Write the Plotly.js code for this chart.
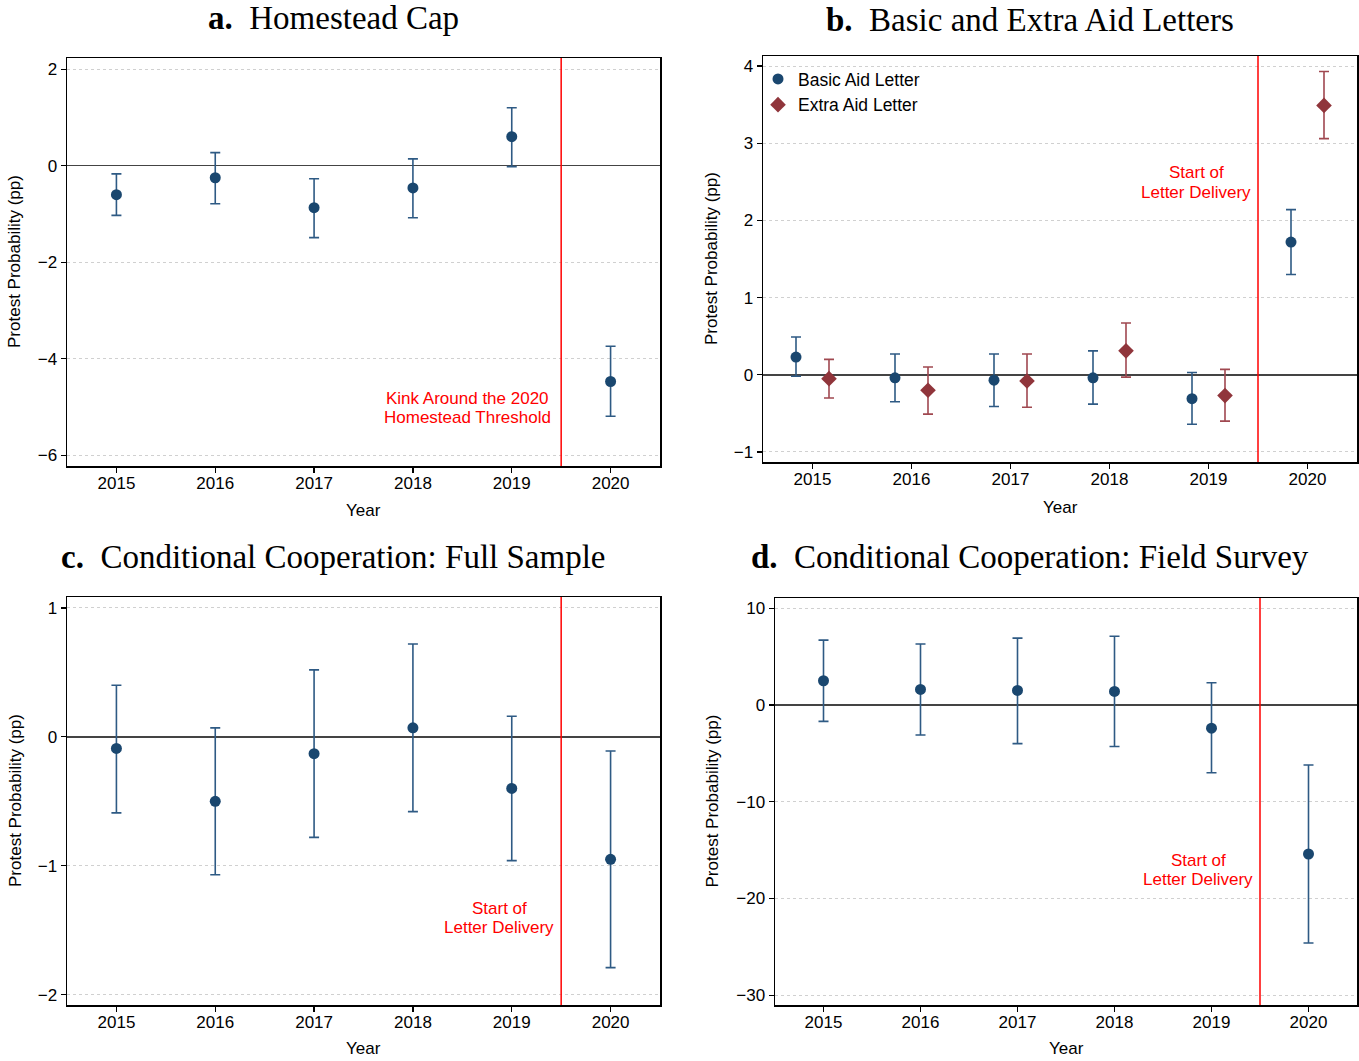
<!DOCTYPE html>
<html>
<head>
<meta charset="utf-8">
<script src="https://cdn.plot.ly/plotly-3.0.1.min.js"></script>
<style>html,body{margin:0;padding:0;background:#fff;}#chart{width:1359px;height:1061px;}</style>
</head>
<body>
<div id="chart"></div>
<script>
// ---- data ----
const years = [2015, 2016, 2017, 2018, 2019, 2020];

// a. Homestead Cap
const capEst = [-0.60, -0.25, -0.87, -0.46, 0.60, -4.47];
const capLo  = [-1.03, -0.79, -1.49, -1.08, -0.02, -5.19];
const capHi  = [-0.17, 0.27, -0.27, 0.14, 1.20, -3.74];

// b. Basic and Extra Aid Letters
const basicEst = [0.23, -0.04, -0.07, -0.04, -0.31, 1.72];
const basicLo  = [-0.02, -0.35, -0.41, -0.38, -0.64, 1.30];
const basicHi  = [0.49, 0.27, 0.27, 0.31, 0.03, 2.14];
const extraEst = [-0.05, -0.20, -0.08, 0.31, -0.27, 3.49];
const extraLo  = [-0.30, -0.51, -0.42, -0.03, -0.60, 3.06];
const extraHi  = [0.20, 0.10, 0.27, 0.67, 0.07, 3.93];

// c. Conditional Cooperation: Full Sample
const fullEst = [-0.09, -0.50, -0.13, 0.07, -0.40, -0.95];
const fullLo  = [-0.59, -1.07, -0.78, -0.58, -0.96, -1.79];
const fullHi  = [0.40, 0.07, 0.52, 0.72, 0.16, -0.11];

// d. Conditional Cooperation: Field Survey
const fieldEst = [2.5, 1.6, 1.5, 1.4, -2.4, -15.4];
const fieldLo  = [-1.7, -3.1, -4.0, -4.3, -7.0, -24.6];
const fieldHi  = [6.7, 6.3, 6.9, 7.1, 2.3, -6.2];

const yTicksA = [-6, -4, -2, 0, 2];
const yTicksB = [-1, 0, 1, 2, 3, 4];
const yTicksC = [-2, -1, 0, 1];
const yTicksD = [-30, -20, -10, 0, 10];

const panelTitles = ['Homestead Cap', 'Basic and Extra Aid Letters',
  'Conditional Cooperation: Full Sample', 'Conditional Cooperation: Field Survey'];
const panelLetters = ['a.', 'b.', 'c.', 'd.'];
const seriesNames = ['Basic Aid Letter', 'Extra Aid Letter'];
const cutoffYear = 2019.5;
const noteLines = [
  ['Kink Around the 2020', 'Homestead Threshold'],
  ['Start of', 'Letter Delivery'],
  ['Start of', 'Letter Delivery'],
  ['Start of', 'Letter Delivery']
];

// ---- styles ----
const NAVY = '#1a476f', NAVY_BAR = '#2e5a84';
const MAROON = '#90353b', MAROON_BAR = '#a04850';
const SANS = 'Liberation Sans, Arial, sans-serif';
const SERIF = 'Liberation Serif, Times New Roman, serif';
const W = 1359, H = 1061;

function px(x) { return x / W; }
function py(y) { return 1 - y / H; }

function errTrace(x, est, lo, hi, xa, ya, color, barColor, symbol, name, showleg, size) {
  return {
    type: 'scatter', mode: 'markers', x: x, y: est, xaxis: xa, yaxis: ya,
    name: name, showlegend: showleg,
    marker: {color: color, size: size, symbol: symbol},
    error_y: {type: 'data', symmetric: false,
      array: hi.map((h, i) => h - est[i]),
      arrayminus: lo.map((l, i) => est[i] - l),
      color: barColor, thickness: 1.6, width: 5}
  };
}

const offset = 1 / 6;
const traces = [
  errTrace(years, capEst, capLo, capHi, 'x', 'y', NAVY, NAVY_BAR, 'circle', 'a', false, 11),
  errTrace(years.map(v => v - offset), basicEst, basicLo, basicHi, 'x2', 'y2', NAVY, NAVY_BAR, 'circle', seriesNames[0], true, 11),
  errTrace(years.map(v => v + offset), extraEst, extraLo, extraHi, 'x2', 'y2', MAROON, MAROON_BAR, 'diamond', seriesNames[1], true, 12),
  errTrace(years, fullEst, fullLo, fullHi, 'x3', 'y3', NAVY, NAVY_BAR, 'circle', 'c', false, 11),
  errTrace(years, fieldEst, fieldLo, fieldHi, 'x4', 'y4', NAVY, NAVY_BAR, 'circle', 'd', false, 11)
];

// plot area pixel boxes [left, right, top, bottom]
const boxes = [
  [67, 660, 58, 466],
  [763, 1357, 56, 462],
  [67, 660, 597, 1005],
  [775, 1357, 598, 1005]
];
const yRanges = [[-6.22, 2.23], [-1.13, 4.13], [-2.08, 1.085], [-31.0, 11.05]];
const yTicks = [yTicksA, yTicksB, yTicksC, yTicksD];

function xaxis(i) {
  const b = boxes[i];
  return {
    domain: [px(b[0]), px(b[1])], anchor: i === 0 ? 'y' : 'y' + (i + 1),
    range: [2014.5, 2020.5], tickvals: years, ticktext: years.map(String),
    showgrid: false, zeroline: false, showline: true, mirror: true,
    linecolor: '#000', linewidth: 1.5, ticks: 'outside', ticklen: 5, tickwidth: 1.2,
    tickcolor: '#000', tickfont: {family: SANS, size: 17, color: '#000'},
    ticklabelstandoff: -4, fixedrange: true
  };
}
function yaxis(i) {
  const b = boxes[i];
  return {
    domain: [py(b[3]), py(b[2])], anchor: i === 0 ? 'x' : 'x' + (i + 1),
    range: yRanges[i], tickvals: yTicks[i], ticktext: yTicks[i].map(v => v < 0 ? '\u2212' + Math.abs(v) : String(v)),
    showgrid: true, gridcolor: '#d0d0d0', griddash: 'dot', gridwidth: 1,
    zeroline: true, zerolinecolor: '#444', zerolinewidth: 1.5,
    showline: true, mirror: true,
    linecolor: '#000', linewidth: 1.5, ticks: 'outside', ticklen: 5, tickwidth: 1.2,
    tickcolor: '#000', tickfont: {family: SANS, size: 17, color: '#000'}, fixedrange: true
  };
}

const shapes = [], annotations = [];
const centers = [333, 1030, 333, 1030];
const titleY = [18, 20, 557, 557];
const xTitleY = [510, 507, 1048, 1048];
const yTitleX = [15, 712, 15, 712];
const noteCenterX = [467, 1196, 499, 1198];
const noteLineY = [[398, 417], [173, 192], [908, 927], [860, 879]];

for (let i = 0; i < 4; i++) {
  const xr = i === 0 ? 'x' : 'x' + (i + 1);
  const yr = i === 0 ? 'y' : 'y' + (i + 1);
  const b = boxes[i];
  shapes.push({type: 'line', xref: xr, yref: yr + ' domain', x0: cutoffYear, x1: cutoffYear, y0: 0, y1: 1,
    line: {color: '#ff0000', width: 1.5}, layer: 'above'});
  annotations.push({xref: 'paper', yref: 'paper', x: px(centers[i]), y: py(titleY[i]),
    text: '<b>' + panelLetters[i] + '</b>\u2002' + panelTitles[i], showarrow: false,
    font: {family: SERIF, size: 33, color: '#000'}, xanchor: 'center', yanchor: 'middle'});
  annotations.push({xref: 'paper', yref: 'paper', x: px((b[0] + b[1]) / 2), y: py(xTitleY[i]),
    text: 'Year', showarrow: false, font: {family: SANS, size: 17, color: '#000'},
    xanchor: 'center', yanchor: 'middle'});
  annotations.push({xref: 'paper', yref: 'paper', x: px(yTitleX[i]), y: py((b[2] + b[3]) / 2),
    text: 'Protest Probability (pp)', showarrow: false, textangle: -90,
    font: {family: SANS, size: 17, color: '#000'}, xanchor: 'center', yanchor: 'middle'});
  noteLines[i].forEach((line, j) => {
    annotations.push({xref: 'paper', yref: 'paper', x: px(noteCenterX[i]), y: py(noteLineY[i][j]),
      text: line, showarrow: false, align: 'center',
      font: {family: SANS, size: 17, color: '#ff0000'}, xanchor: 'center', yanchor: 'middle'});
  });
}

const layout = {
  width: W, height: H, margin: {l: 0, r: 0, t: 0, b: 0},
  paper_bgcolor: '#fff', plot_bgcolor: '#fff', showlegend: true,
  legend: {x: px(758), y: py(61), xanchor: 'left', yanchor: 'top', bgcolor: 'rgba(0,0,0,0)',
    font: {family: SANS, size: 17.5, color: '#000'}, tracegroupgap: 0, itemwidth: 30},
  xaxis: xaxis(0), yaxis: yaxis(0), xaxis2: xaxis(1), yaxis2: yaxis(1),
  xaxis3: xaxis(2), yaxis3: yaxis(2), xaxis4: xaxis(3), yaxis4: yaxis(3),
  shapes: shapes, annotations: annotations
};

Plotly.newPlot('chart', traces, layout, {displayModeBar: false, staticPlot: true});
</script>
</body>
</html>
